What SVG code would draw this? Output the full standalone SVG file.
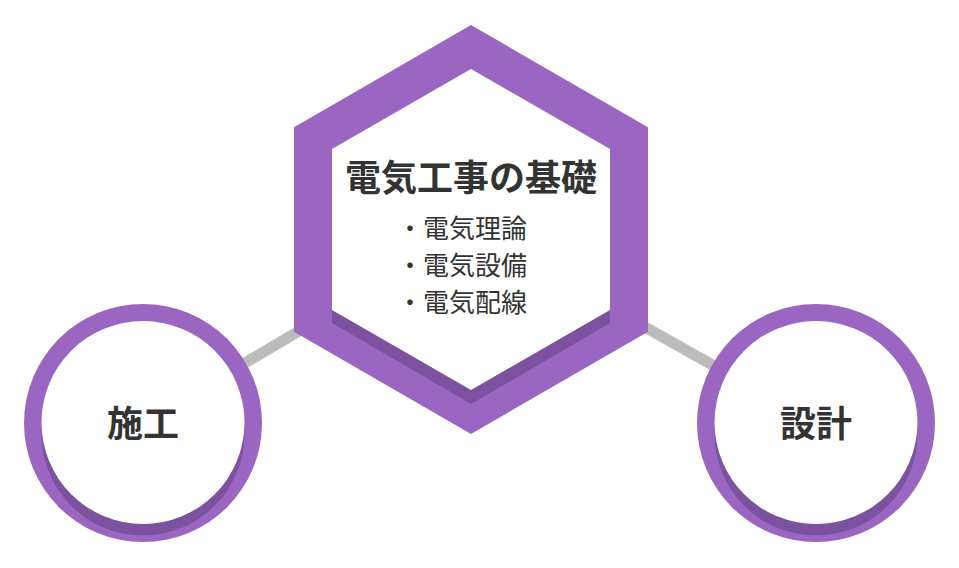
<svg xmlns="http://www.w3.org/2000/svg" width="959" height="568" viewBox="0 0 959 568">
  <style>
    .ring { fill: #9b66c2; }
    .shade { fill: #7c519f; }
    .face { fill: #ffffff; }
    .conn { stroke: #bcbcbc; stroke-width: 11; fill: none; }
    .t { font-family: "Noto Sans CJK JP", "Noto Sans", sans-serif; fill: #333333; }
    .title { font-size: 36px; font-weight: bold; text-anchor: middle; }
    .item { font-size: 26px; }
    .lbl { font-size: 36px; font-weight: bold; text-anchor: middle; }
  </style>
  <rect width="959" height="568" fill="#ffffff"/>
  <g id="connectors">
    <line class="conn" x1="471" y1="229.5" x2="143" y2="423"/>
    <line class="conn" x1="471" y1="229.5" x2="816" y2="423"/>
  </g>
  <g id="node-kiso">
    <polygon class="ring" points="471,25 648,127.3 648,331.7 471,434 294,331.7 294,127.3"/>
    <polygon class="shade" points="471,82 610,162 610,323 471,404 332,323 332,162"/>
    <polygon class="face" points="471,69 610,149 610,310 471,390 332,310 332,149"/>
    <text class="t title" x="471" y="191">電気工事の基礎</text>
    <text class="t item" x="397" y="238">・電気理論</text>
    <text class="t item" x="397" y="275">・電気設備</text>
    <text class="t item" x="397" y="312">・電気配線</text>
  </g>
  <g id="node-seko">
    <circle class="ring" cx="143" cy="423" r="119"/>
    <circle class="shade" cx="143" cy="434" r="101.5"/>
    <circle class="face" cx="143" cy="422.5" r="101.5"/>
    <text class="t lbl" x="143" y="437">施工</text>
  </g>
  <g id="node-sekkei">
    <circle class="ring" cx="816" cy="423" r="119"/>
    <circle class="shade" cx="816" cy="434" r="101.5"/>
    <circle class="face" cx="816" cy="422.5" r="101.5"/>
    <text class="t lbl" x="816" y="437">設計</text>
  </g>
</svg>
